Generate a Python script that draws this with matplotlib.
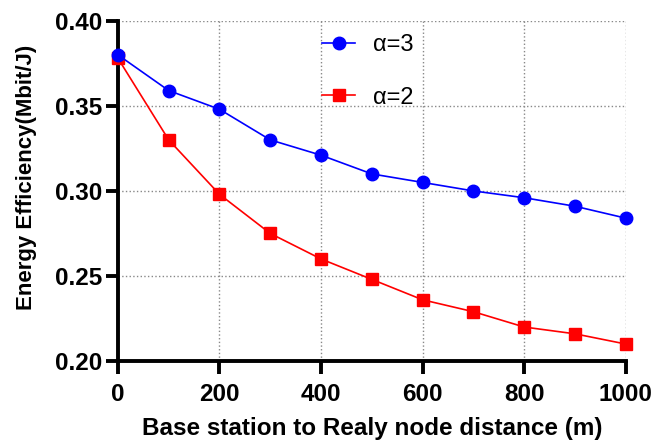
import matplotlib
matplotlib.use('Agg')
import matplotlib.pyplot as plt
import numpy as np

plt.rcParams['font.family'] = ['Liberation Sans', 'DejaVu Sans']

distance = [0, 100, 200, 300, 400, 500, 600, 700, 800, 900, 1000]
ee_a3 = [0.380, 0.359, 0.348, 0.330, 0.321, 0.310, 0.305, 0.300, 0.296, 0.291, 0.284]
ee_a2 = [0.378, 0.330, 0.298, 0.275, 0.260, 0.248, 0.236, 0.229, 0.220, 0.216, 0.210]

fig = plt.figure(figsize=(6.7, 4.43), dpi=100)
ax = fig.add_axes([0.176, 0.185, 0.758, 0.768])

ax.plot(distance, ee_a3, color='#0000ff', lw=1.2, marker='o', ms=9,
        label='α=3', clip_on=False, zorder=4)
ax.plot(distance, ee_a2, color='#ff0000', lw=1.2, marker='s', ms=8.5,
        label='α=2', clip_on=False, zorder=3)

ax.set_xlim(0, 1000)
ax.set_ylim(0.20, 0.40)
ax.set_xticks(np.arange(0, 1001, 200))
ax.set_yticks([0.20, 0.25, 0.30, 0.35, 0.40])
ax.set_yticklabels(['0.20', '0.25', '0.30', '0.35', '0.40'])

ax.grid(True, ls=':', color='#888888', lw=1.0)
ax.set_axisbelow(True)

for s in ['top', 'right']:
    ax.spines[s].set_visible(False)
for s in ['left', 'bottom']:
    ax.spines[s].set_linewidth(2.8)

ax.tick_params(axis='both', direction='out', length=9, width=2.8, labelsize=17.5)
ax.tick_params(axis='x', pad=7)
ax.tick_params(axis='y', pad=2)
for lab in ax.get_xticklabels() + ax.get_yticklabels():
    lab.set_fontweight('bold')

ax.set_xlabel('Base station to Realy node distance (m)', fontsize=17.5,
              fontweight='bold')
ax.set_ylabel('Energy Efficiency(Mbit/J)', fontsize=16, fontweight='bold')
ax.xaxis.set_label_coords(0.5, -0.163)
ax.yaxis.set_label_coords(-0.16, 0.54)

ax.legend(loc='upper left', bbox_to_anchor=(0.36, 1.024), frameon=False,
          fontsize=17, labelspacing=1.3, handlelength=1.4, handletextpad=0.75)

fig.savefig('out.png', dpi=100)
